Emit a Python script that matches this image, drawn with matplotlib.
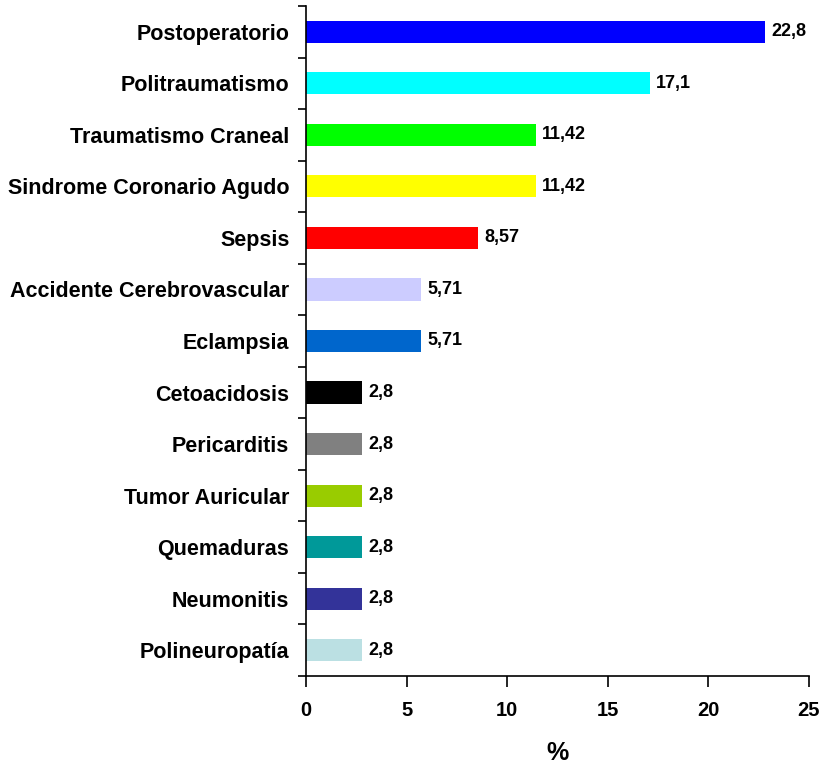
import matplotlib
matplotlib.use("Agg")
import matplotlib.pyplot as plt
import numpy as np

categories = [
    "Postoperatorio", "Politraumatismo", "Traumatismo Craneal",
    "Sindrome Coronario Agudo", "Sepsis", "Accidente Cerebrovascular",
    "Eclampsia", "Cetoacidosis", "Pericarditis", "Tumor Auricular",
    "Quemaduras", "Neumonitis", "Polineuropatía",
]
values = [22.8, 17.1, 11.42, 11.42, 8.57, 5.71, 5.71, 2.8, 2.8, 2.8, 2.8, 2.8, 2.8]
value_labels = ["22,8", "17,1", "11,42", "11,42", "8,57", "5,71", "5,71",
                "2,8", "2,8", "2,8", "2,8", "2,8", "2,8"]
colors = ["#0000FF", "#00FFFF", "#00FF00", "#FFFF00", "#FF0000", "#CCCCFF",
          "#0066CC", "#000000", "#808080", "#99CC00", "#009999", "#333399",
          "#BBE0E3"]
xticks = [0, 5, 10, 15, 20, 25]

plt.rcParams["font.family"] = ["Liberation Sans", "DejaVu Sans"]
plt.rcParams["font.weight"] = "bold"

fig = plt.figure(figsize=(8.2, 7.67), dpi=100)
ax = fig.add_axes([306 / 820, 91 / 767, 503 / 820, 670 / 767])

n = len(categories)
y = np.arange(n)[::-1]
ax.barh(y, values, height=0.43, color=colors, edgecolor="none")

for yi, v, lab in zip(y, values, value_labels):
    ax.annotate(lab, (v, yi), xytext=(4.5, 0), textcoords="offset points",
                va="center", ha="left", fontsize=13, fontweight="bold")

ax.set_xlim(0, 25)
ax.set_ylim(-0.5, n - 0.5)
ax.set_xticks(xticks)
ax.set_xticklabels([str(t) for t in xticks], fontsize=14.5, fontweight="bold")

# category labels sit at bar centres, ticks at the boundaries between bars
ax.set_yticks(np.arange(-0.5, n, 1.0))
ax.set_yticklabels([])
ax.set_yticks(y, minor=True)
ax.set_yticklabels(categories, minor=True, fontsize=15.5, fontweight="bold")
ax.tick_params(axis="y", which="minor", length=0, pad=12)
ax.tick_params(axis="y", which="major", length=6, width=1.2, direction="out")
ax.tick_params(axis="x", length=8, width=1.2, direction="out", pad=10)

for s in ["top", "right"]:
    ax.spines[s].set_visible(False)
for s in ["left", "bottom"]:
    ax.spines[s].set_linewidth(1.2)

ax.set_xlabel("%", fontsize=18, fontweight="bold", labelpad=15)

fig.savefig("out.png", dpi=100)
